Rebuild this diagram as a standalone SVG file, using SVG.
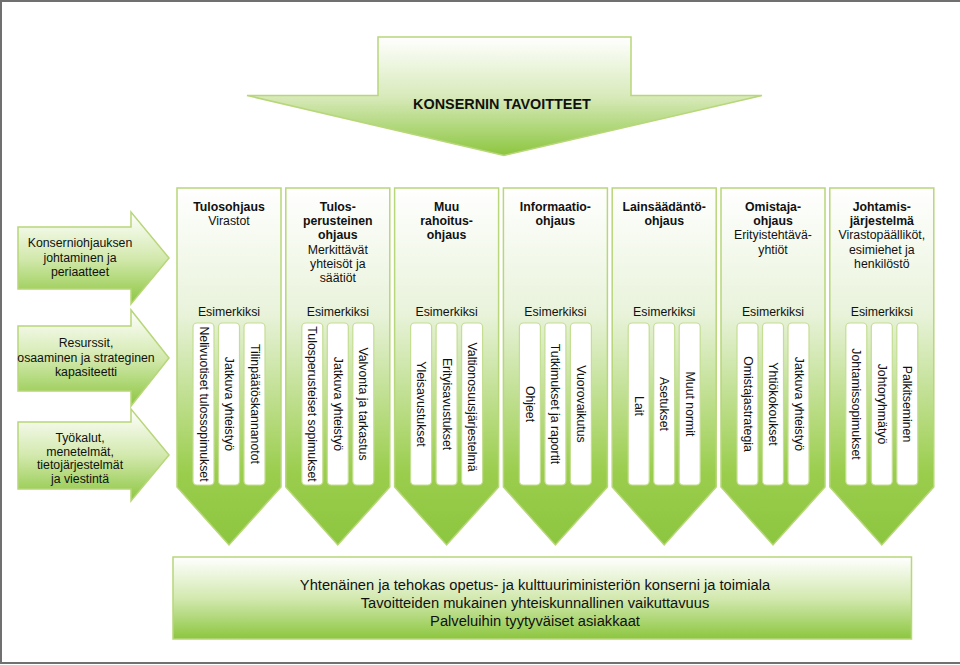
<svg xmlns="http://www.w3.org/2000/svg" width="960" height="665" viewBox="0 0 960 665">
<defs>
<linearGradient id="gCol" x1="0" y1="0" x2="0" y2="1">
<stop offset="0" stop-color="#ffffff"/>
<stop offset="0.35" stop-color="#e9f3db"/>
<stop offset="0.8" stop-color="#9acd4c"/>
<stop offset="1" stop-color="#8cc63f"/>
</linearGradient>
<linearGradient id="gArr" x1="0" y1="0" x2="0" y2="1">
<stop offset="0" stop-color="#ffffff"/>
<stop offset="0.5" stop-color="#d3e9ae"/>
<stop offset="1" stop-color="#8cc63f"/>
</linearGradient>
<linearGradient id="gTop" x1="0" y1="0" x2="0" y2="1">
<stop offset="0" stop-color="#ffffff"/>
<stop offset="0.5" stop-color="#d8eabb"/>
<stop offset="1" stop-color="#8cc63f"/>
</linearGradient>
<linearGradient id="gBot" x1="0" y1="0" x2="0" y2="1">
<stop offset="0" stop-color="#ffffff"/>
<stop offset="0.5" stop-color="#d3e9b0"/>
<stop offset="1" stop-color="#8cc63f"/>
</linearGradient>
</defs>
<style>
text{font-family:"Liberation Sans",Arial,sans-serif;fill:#111;}
.shape{stroke:#b8d67a;stroke-width:1.5;}
.col{fill:url(#gCol);}
.arr{fill:url(#gArr);}
.item{fill:#ffffff;stroke:#c4de92;stroke-width:1.2;}
.h{font-size:12.3px;text-anchor:middle;}
.b{font-weight:bold;}
.v{font-size:12.3px;text-anchor:middle;dominant-baseline:central;}
.lt{font-size:12.3px;text-anchor:middle;}
.bt{font-size:14.7px;text-anchor:middle;}
</style>
<rect x="1" y="1" width="970" height="662" fill="#ffffff" stroke="#707070" stroke-width="2"/>

<g id="konsernin-tavoitteet">
<path class="shape" fill="url(#gTop)" d="M378,37 H631 V95.5 H762 L504,155.5 L247,95.5 H378 Z"/>
<text x="502" y="109" font-size="14.4" font-weight="bold" text-anchor="middle">KONSERNIN TAVOITTEET</text>
</g>

<g id="arrow-konserniohjaus">
<path class="shape arr" d="M18,227 H131 V212 L169,258 L131,304 V289 H18 Z"/>
<text class="lt" x="80" y="247">Konserniohjauksen</text>
<text class="lt" x="80" y="261.5">johtaminen ja</text>
<text class="lt" x="80" y="276">periaatteet</text>
</g>
<g id="arrow-resurssit">
<path class="shape arr" d="M18,326 H131 V310 L169,358 L131,406 V391 H18 Z"/>
<text class="lt" x="86" y="347">Resurssit,</text>
<text class="lt" x="86" y="361.5">osaaminen ja strateginen</text>
<text class="lt" x="86" y="376">kapasiteetti</text>
</g>
<g id="arrow-tyokalut">
<path class="shape arr" d="M18,422 H131 V409 L169,455 L131,501 V489 H18 Z"/>
<text class="lt" x="80" y="442">Työkalut,</text>
<text class="lt" x="80" y="455.5">menetelmät,</text>
<text class="lt" x="80" y="469">tietojärjestelmät</text>
<text class="lt" x="80" y="482.5">ja viestintä</text>
</g>

<g id="col-tulosohjaus">
<path class="shape col" d="M177,188 H281 V487 L229,545 L177,487 Z"/>
<text class="h b" x="229" y="211">Tulosohjaus</text>
<text class="h" x="229" y="225.2">Virastot</text>
<text class="h" x="229" y="316">Esimerkiksi</text>
<rect class="item" x="193" y="323" width="21" height="162" rx="4"/>
<rect class="item" x="218.5" y="323" width="21" height="162" rx="4"/>
<rect class="item" x="244" y="323" width="21" height="162" rx="4"/>
<text class="v" transform="translate(203.5,404) rotate(90)">Nelivuotiset tulossopimukset</text>
<text class="v" transform="translate(229,404) rotate(90)">Jatkuva yhteistyö</text>
<text class="v" transform="translate(254.5,404) rotate(90)">Tilinpäätöskannanotot</text>
</g>

<g id="col-tulosperusteinen">
<path class="shape col" d="M285.8,188 H389.8 V487 L337.8,545 L285.8,487 Z"/>
<text class="h b" x="337.8" y="211">Tulos-</text>
<text class="h b" x="337.8" y="225.2">perusteinen</text>
<text class="h b" x="337.8" y="239.4">ohjaus</text>
<text class="h" x="337.8" y="253.6">Merkittävät</text>
<text class="h" x="337.8" y="267.8">yhteisöt ja</text>
<text class="h" x="337.8" y="282">säätiöt</text>
<text class="h" x="337.8" y="316">Esimerkiksi</text>
<rect class="item" x="301.8" y="323" width="21" height="162" rx="4"/>
<rect class="item" x="327.3" y="323" width="21" height="162" rx="4"/>
<rect class="item" x="352.8" y="323" width="21" height="162" rx="4"/>
<text class="v" transform="translate(312.3,404) rotate(90)">Tulosperusteiset sopimukset</text>
<text class="v" transform="translate(337.8,404) rotate(90)">Jatkuva yhteistyö</text>
<text class="v" transform="translate(363.3,404) rotate(90)">Valvonta ja tarkastus</text>
</g>

<g id="col-muu-rahoitusohjaus">
<path class="shape col" d="M394.6,188 H498.6 V487 L446.6,545 L394.6,487 Z"/>
<text class="h b" x="446.6" y="211">Muu</text>
<text class="h b" x="446.6" y="225.2">rahoitus-</text>
<text class="h b" x="446.6" y="239.4">ohjaus</text>
<text class="h" x="446.6" y="316">Esimerkiksi</text>
<rect class="item" x="410.6" y="323" width="21" height="162" rx="4"/>
<rect class="item" x="436.1" y="323" width="21" height="162" rx="4"/>
<rect class="item" x="461.6" y="323" width="21" height="162" rx="4"/>
<text class="v" transform="translate(421.1,404) rotate(90)">Yleisavustukset</text>
<text class="v" transform="translate(446.6,404) rotate(90)">Erityisavustukset</text>
<text class="v" transform="translate(472.1,407) rotate(90)">Valtionosuusjärjestelmä</text>
</g>

<g id="col-informaatio-ohjaus">
<path class="shape col" d="M503.4,188 H607.4 V487 L555.4,545 L503.4,487 Z"/>
<text class="h b" x="555.4" y="211">Informaatio-</text>
<text class="h b" x="555.4" y="225.2">ohjaus</text>
<text class="h" x="555.4" y="316">Esimerkiksi</text>
<rect class="item" x="519.4" y="323" width="21" height="162" rx="4"/>
<rect class="item" x="544.9" y="323" width="21" height="162" rx="4"/>
<rect class="item" x="570.4" y="323" width="21" height="162" rx="4"/>
<text class="v" transform="translate(529.9,404) rotate(90)">Ohjeet</text>
<text class="v" transform="translate(555.4,404) rotate(90)">Tutkimukset ja raportit</text>
<text class="v" transform="translate(580.9,404) rotate(90)">Vuorovaikutus</text>
</g>

<g id="col-lainsaadanto-ohjaus">
<path class="shape col" d="M612.2,188 H716.2 V487 L664.2,545 L612.2,487 Z"/>
<text class="h b" x="664.2" y="211">Lainsäädäntö-</text>
<text class="h b" x="664.2" y="225.2">ohjaus</text>
<text class="h" x="664.2" y="316">Esimerkiksi</text>
<rect class="item" x="628.2" y="323" width="21" height="162" rx="4"/>
<rect class="item" x="653.7" y="323" width="21" height="162" rx="4"/>
<rect class="item" x="679.2" y="323" width="21" height="162" rx="4"/>
<text class="v" transform="translate(638.7,406) rotate(90)">Lait</text>
<text class="v" transform="translate(664.2,404) rotate(90)">Asetukset</text>
<text class="v" transform="translate(689.7,404) rotate(90)">Muut normit</text>
</g>

<g id="col-omistajaohjaus">
<path class="shape col" d="M721,188 H825 V487 L773,545 L721,487 Z"/>
<text class="h b" x="773" y="211">Omistaja-</text>
<text class="h b" x="773" y="225.2">ohjaus</text>
<text class="h" x="773" y="239.4">Erityistehtävä-</text>
<text class="h" x="773" y="253.6">yhtiöt</text>
<text class="h" x="773" y="316">Esimerkiksi</text>
<rect class="item" x="737" y="323" width="21" height="162" rx="4"/>
<rect class="item" x="762.5" y="323" width="21" height="162" rx="4"/>
<rect class="item" x="788" y="323" width="21" height="162" rx="4"/>
<text class="v" transform="translate(747.5,404) rotate(90)">Omistajastrategia</text>
<text class="v" transform="translate(773,404) rotate(90)">Yhtiökokoukset</text>
<text class="v" transform="translate(798.5,404) rotate(90)">Jatkuva yhteistyö</text>
</g>

<g id="col-johtamisjarjestelma">
<path class="shape col" d="M829.8,188 H933.8 V487 L881.8,545 L829.8,487 Z"/>
<text class="h b" x="881.8" y="211">Johtamis-</text>
<text class="h b" x="881.8" y="225.2">järjestelmä</text>
<text class="h" x="881.8" y="239.4">Virastopäälliköt,</text>
<text class="h" x="881.8" y="253.6">esimiehet ja</text>
<text class="h" x="881.8" y="267.8">henkilöstö</text>
<text class="h" x="881.8" y="316">Esimerkiksi</text>
<rect class="item" x="845.8" y="323" width="21" height="162" rx="4"/>
<rect class="item" x="871.3" y="323" width="21" height="162" rx="4"/>
<rect class="item" x="896.8" y="323" width="21" height="162" rx="4"/>
<text class="v" transform="translate(856.3,404) rotate(90)">Johtamissopimukset</text>
<text class="v" transform="translate(881.8,404) rotate(90)">Johtoryhmätyö</text>
<text class="v" transform="translate(907.3,404) rotate(90)">Palkitseminen</text>
</g>

<g id="tulokset">
<rect class="shape" fill="url(#gBot)" x="173" y="557" width="738.5" height="82"/>
<text class="bt" x="535" y="590">Yhtenäinen ja tehokas opetus- ja kulttuuriministeriön konserni ja toimiala</text>
<text class="bt" x="535" y="608">Tavoitteiden mukainen yhteiskunnallinen vaikuttavuus</text>
<text class="bt" x="535" y="626">Palveluihin tyytyväiset asiakkaat</text>
</g>
</svg>
